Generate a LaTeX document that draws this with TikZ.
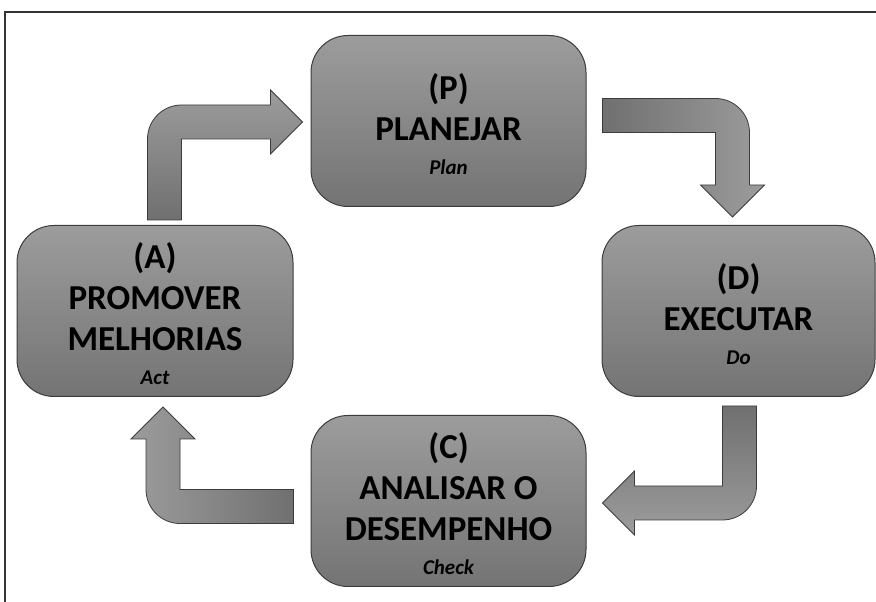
\documentclass[tikz,border=0pt]{standalone}
\usepackage{fontspec}
\setmainfont{Carlito}
\usetikzlibrary{positioning,calc}

\definecolor{boxtop}{RGB}{156,156,156}
\definecolor{boxbot}{RGB}{116,116,116}
\definecolor{arrlight}{RGB}{156,156,156}
\definecolor{arrdark}{RGB}{112,112,112}
\definecolor{edge}{RGB}{60,60,60}

% block arrow sizes
\newcommand{\shaftw}{17pt}
\newcommand{\headw}{32pt}
\newcommand{\headl}{32pt}
\newcommand{\bendr}{34pt}
\newcommand{\eng}[1]{\\[-7pt]{\fontsize{21}{25}\selectfont\itshape #1}}

\begin{document}
\begin{tikzpicture}[x=1pt,y=1pt,
    phase/.style={rectangle,rounded corners=37pt,draw=edge,line width=1pt,
		top color=boxtop,bottom color=boxbot,minimum width=275pt,
		minimum height=171pt,align=center,
		font=\fontsize{35}{41}\selectfont\bfseries},
% block arrows
    bent/.style={draw=edge,line width=0.8pt,line join=miter},
    frame/.style={line width=1.6pt,draw=black!80}
    ]
\useasboundingbox (0,0) rectangle (876,602);
\draw [frame] (5,0) -- (5,590) -- (876,590);

\node [phase] (P) at (448.5,481) {\rule{0pt}{32pt}(P)\\PLANEJAR\eng{Plan}};
\node [phase,minimum width=273pt] (D) at (738.5,291) {\rule{0pt}{32pt}(D)\\EXECUTAR\eng{Do}};
\node [phase] (C) at (448.5,101) {\rule{0pt}{32pt}(C)\\ANALISAR O\\DESEMPENHO\eng{Check}};
\node [phase,minimum width=276pt] (A) at (155,291) {\rule{0pt}{32pt}(A)\\PROMOVER\\MELHORIAS\eng{Act}};

\coordinate (apT) at ($(A.north)+(9.5,5)$);
\coordinate (apH) at ($(P.west)+(-8,-1)$);
\coordinate (pdT) at ($(P.east)+(16,5.5)$);
\coordinate (pdH) at ($(D.north)+(-6,8)$);
\coordinate (dcT) at ($(D.south)+(1,-9)$);
\coordinate (dcH) at ($(C.east)+(16,-2)$);
\coordinate (caT) at ($(C.west)+(-17,-5.5)$);
\coordinate (caH) at ($(A.south)+(8,-10)$);

% A -> P
\draw [bent,top color=arrlight,bottom color=arrdark] let \p1=(apT), \p2=(apH) in
  (\x1-\shaftw,\y1) -- (\x1-\shaftw,\y2+\shaftw-\bendr)
  arc[start angle=180,end angle=90,radius=\bendr]
  -- (\x2-\headl,\y2+\shaftw) -- (\x2-\headl,\y2+\headw) -- (\x2,\y2)
  -- (\x2-\headl,\y2-\headw) -- (\x2-\headl,\y2-\shaftw)
  -- (\x1+\shaftw,\y2-\shaftw) -- (\x1+\shaftw,\y1) -- cycle;
% P -> D
\draw [bent,left color=arrdark,right color=arrlight] let \p1=(pdT), \p2=(pdH) in
  (\x1,\y1+\shaftw) -- (\x2+\shaftw-\bendr,\y1+\shaftw)
  arc[start angle=90,end angle=0,radius=\bendr]
  -- (\x2+\shaftw,\y2+\headl) -- (\x2+\headw,\y2+\headl) -- (\x2,\y2)
  -- (\x2-\headw,\y2+\headl) -- (\x2-\shaftw,\y2+\headl)
  -- (\x2-\shaftw,\y1-\shaftw) -- (\x1,\y1-\shaftw) -- cycle;
% D -> C
\draw [bent,top color=arrdark,bottom color=arrlight] let \p1=(dcT), \p2=(dcH) in
  (\x1+\shaftw,\y1) -- (\x1+\shaftw,\y2-\shaftw+\bendr)
  arc[start angle=0,end angle=-90,radius=\bendr]
  -- (\x2+\headl,\y2-\shaftw) -- (\x2+\headl,\y2-\headw) -- (\x2,\y2)
  -- (\x2+\headl,\y2+\headw) -- (\x2+\headl,\y2+\shaftw)
  -- (\x1-\shaftw,\y2+\shaftw) -- (\x1-\shaftw,\y1) -- cycle;
% C -> A
\draw [bent,left color=arrlight,right color=arrdark] let \p1=(caT), \p2=(caH) in
  (\x1,\y1-\shaftw) -- (\x2-\shaftw+\bendr,\y1-\shaftw)
  arc[start angle=270,end angle=180,radius=\bendr]
  -- (\x2-\shaftw,\y2-\headl) -- (\x2-\headw,\y2-\headl) -- (\x2,\y2)
  -- (\x2+\headw,\y2-\headl) -- (\x2+\shaftw,\y2-\headl)
  -- (\x2+\shaftw,\y1+\shaftw) -- (\x1,\y1+\shaftw) -- cycle;
\end{tikzpicture}
\end{document}
